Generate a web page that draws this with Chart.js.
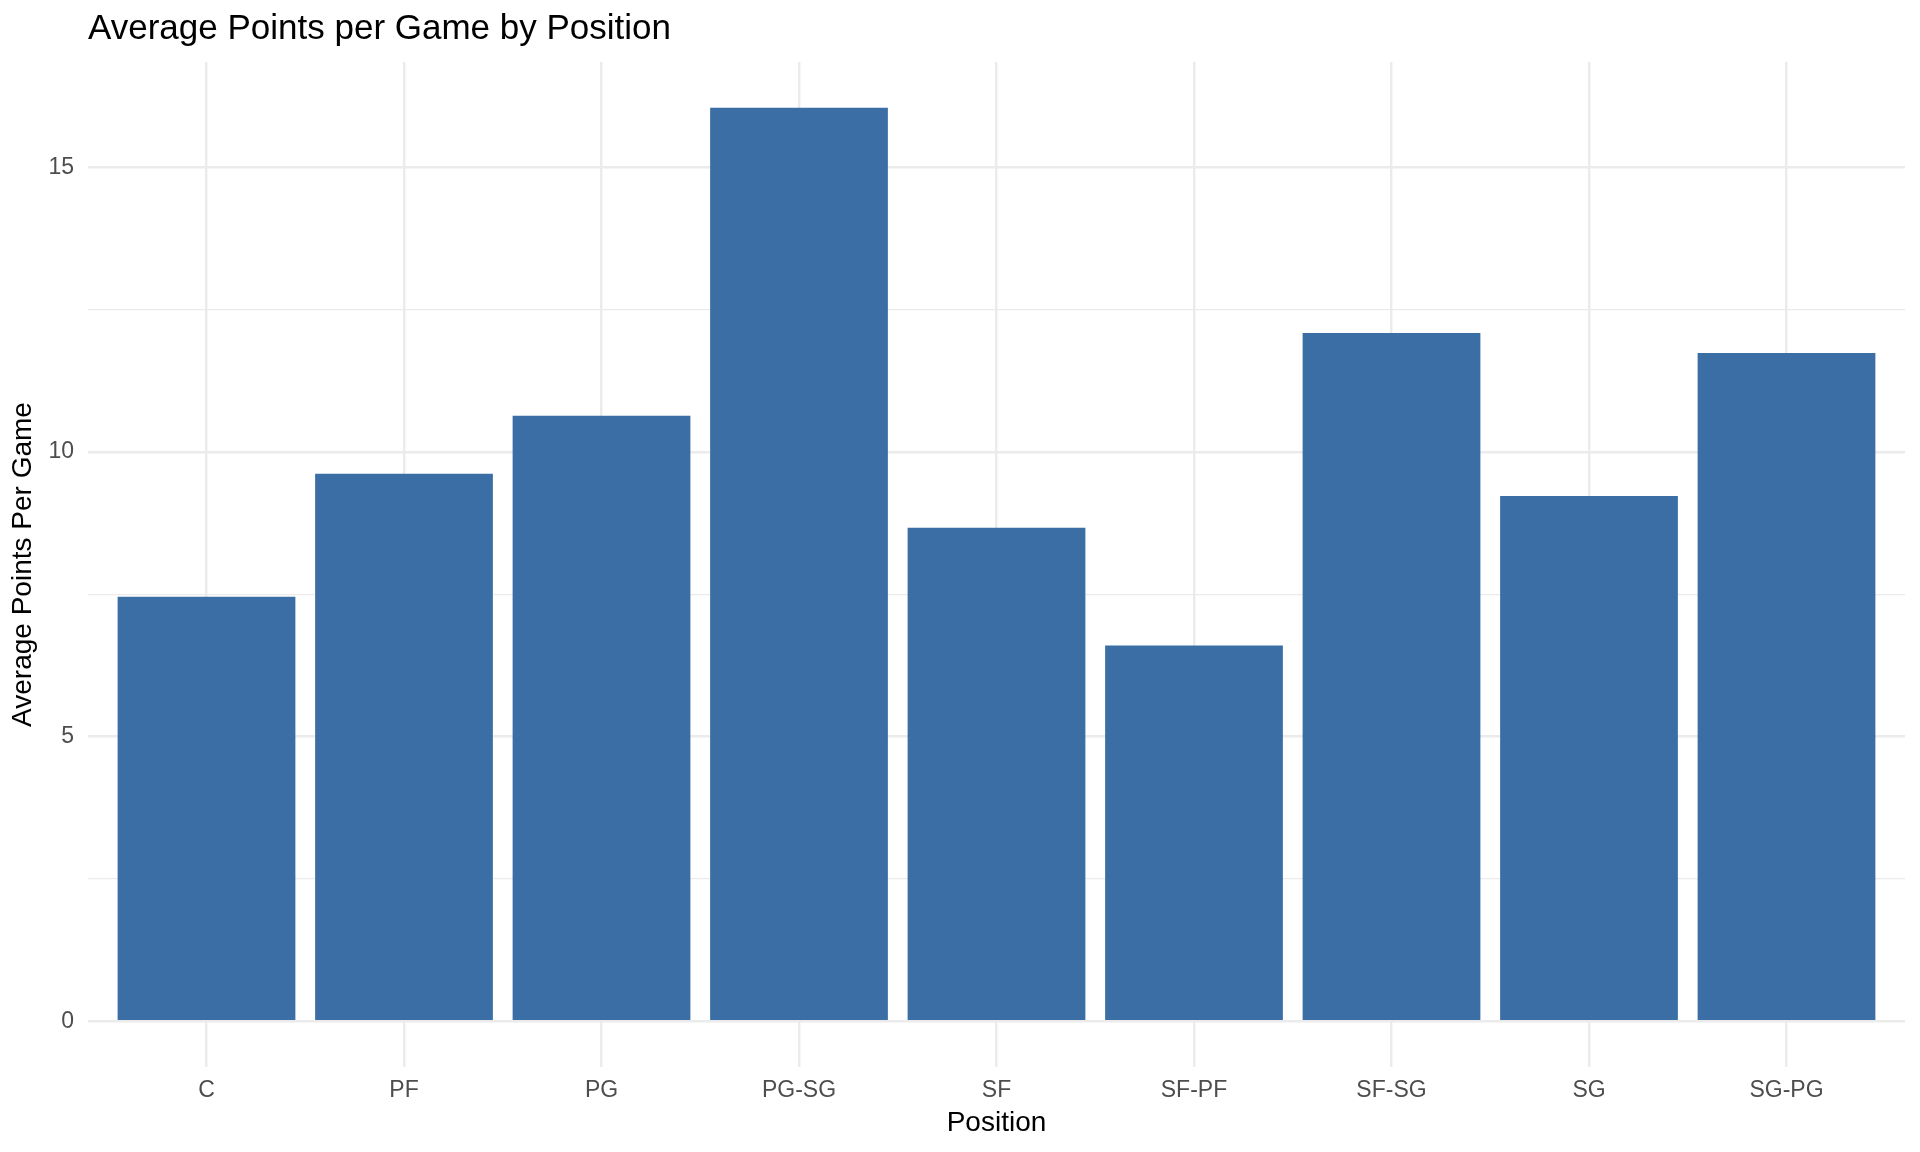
<!DOCTYPE html>
<html lang="en">
<head>
    <meta charset="UTF-8">
    <title>Average Points per Game by Position</title>
    <script src="https://cdn.jsdelivr.net/npm/chart.js"></script>
    <style>
        body {
            margin: 0;
            background: #ffffff;
            font-family: "Liberation Sans", Arial, sans-serif;
        }
        #wrap {
            position: relative;
            width: 1920px;
            height: 1152px;
        }
        #mainTitle {
            position: absolute;
            left: 88px;
            top: 9px;
            margin: 0;
            font-size: 35px;
            line-height: 35px;
            font-weight: normal;
            color: #000000;
        }
    </style>
</head>
<body>
    <div id="wrap">
        <canvas id="pointsChart" width="1920" height="1152"></canvas>
        <h1 id="mainTitle">Average Points per Game by Position</h1>
    </div>

    <script>
        const positions = ['C', 'PF', 'PG', 'PG-SG', 'SF', 'SF-PF', 'SF-SG', 'SG', 'SG-PG'];
        const avgPoints = [7.46, 9.62, 10.64, 16.05, 8.67, 6.60, 12.09, 9.23, 11.74];
        const yTicks = [0, 2.5, 5, 7.5, 10, 12.5, 15];

        const fontFamily = '"Liberation Sans", Arial, sans-serif';
        const gridColor = '#ebebeb';

        // ggplot style padding: 0.6 of a slot on each side, 5% of the range on y
        const yMax = Math.max(...avgPoints);
        const yPad = yMax * 0.05;

        const ctx = document.getElementById('pointsChart').getContext('2d');

        new Chart(ctx, {
            type: 'bar',
            data: {
                datasets: [{
                    label: 'Average Points Per Game',
                    data: positions.map((p, i) => ({ x: i, y: avgPoints[i] })),
                    backgroundColor: '#3a6ea5',
                    borderWidth: 0,
                    barPercentage: 0.9,
                    categoryPercentage: 1.0
                }]
            },
            options: {
                responsive: false,
                devicePixelRatio: 1,
                animation: false,
                layout: {
                    padding: { top: 62, right: 15, bottom: 0, left: 0 }
                },
                plugins: {
                    legend: { display: false },
                    title: { display: false },
                    tooltip: { enabled: false }
                },
                scales: {
                    x: {
                        type: 'linear',
                        offset: false,
                        min: -0.6,
                        max: positions.length - 1 + 0.6,
                        afterBuildTicks: axis => {
                            axis.ticks = positions.map((p, i) => ({ value: i }));
                        },
                        afterFit: axis => {
                            axis.height = 85;
                        },
                        grid: {
                            offset: false,
                            color: gridColor,
                            lineWidth: 2.4,
                            drawTicks: false
                        },
                        border: { display: false },
                        ticks: {
                            padding: 9.5,
                            color: '#4d4d4d',
                            font: { family: fontFamily, size: 23 },
                            maxRotation: 0,
                            autoSkip: false,
                            callback: value => positions[value]
                        },
                        title: {
                            display: true,
                            text: 'Position',
                            color: '#000000',
                            font: { family: fontFamily, size: 28 },
                            padding: { top: 0, bottom: 12 }
                        }
                    },
                    y: {
                        min: -yPad,
                        max: yMax + yPad,
                        afterBuildTicks: axis => {
                            axis.ticks = yTicks.map(v => ({ value: v }));
                        },
                        afterFit: axis => {
                            axis.width = 88;
                        },
                        grid: {
                            color: gridColor,
                            lineWidth: c => (c.tick && c.tick.value % 5 === 0) ? 2.4 : 1.2,
                            drawTicks: false
                        },
                        border: { display: false },
                        ticks: {
                            padding: 14,
                            color: '#4d4d4d',
                            font: { family: fontFamily, size: 23 },
                            callback: value => (value % 5 === 0 ? value : '')
                        },
                        title: {
                            display: true,
                            text: 'Average Points Per Game',
                            color: '#000000',
                            font: { family: fontFamily, size: 28 },
                            padding: { top: 6, bottom: 0 }
                        }
                    }
                }
            }
        });
    </script>
</body>
</html>
